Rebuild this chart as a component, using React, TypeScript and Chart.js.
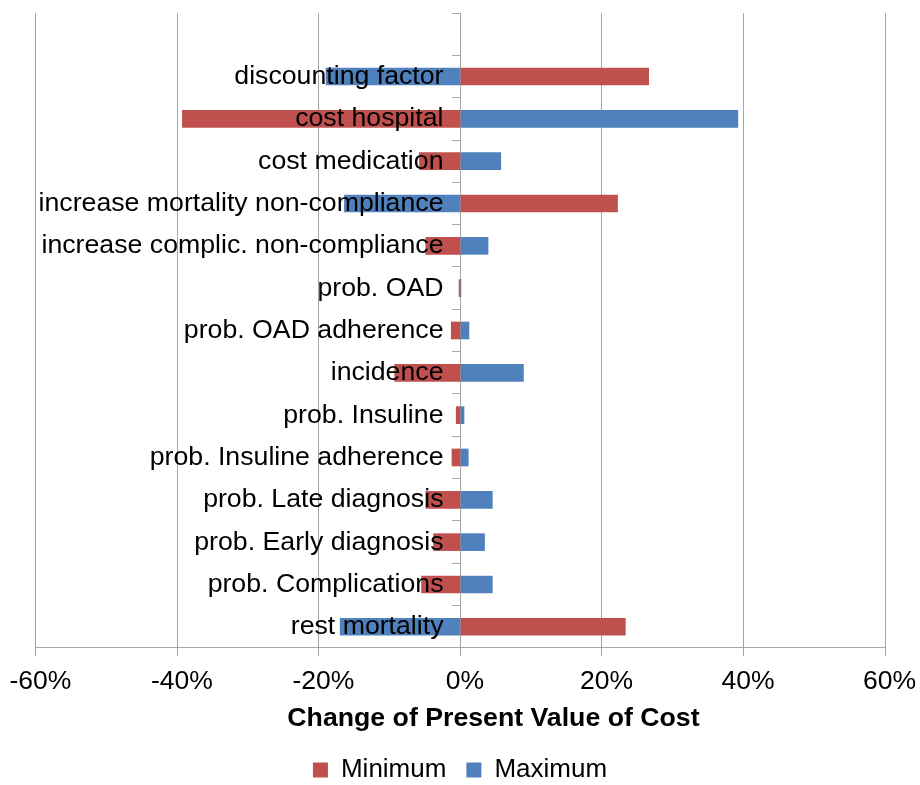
import React, { useEffect, useRef } from "react";
import { Chart, registerables, LinearScale } from "chart.js";

Chart.register(...registerables);

const categories = [
  "",
  "discounting factor",
  "cost hospital",
  "cost medication",
  "increase mortality non-compliance",
  "increase complic. non-compliance",
  "prob. OAD",
  "prob. OAD adherence",
  "incidence",
  "prob. Insuline",
  "prob. Insuline adherence",
  "prob. Late diagnosis",
  "prob. Early diagnosis",
  "prob. Complications",
  "rest mortality",
];

const minimumValues = [null, 26.6, -39.3, -5.8, 22.2, -4.9, -0.2, -1.3, -9.3, -0.6, -1.2, -4.9, -3.8, -5.5, 23.3];
const maximumValues = [null, -19.0, 39.2, 5.7, -16.4, 3.9, 0.05, 1.2, 8.9, 0.5, 1.1, 4.5, 3.4, 4.5, -17.0];

const xMin = -60;
const xMax = 60;
const xStep = 20;

const FONT = "'Liberation Sans', Arial, Helvetica, sans-serif";
const RED = "#C0504D";
const BLUE = "#4F81BD";
const GRID = "#a6a6a6";
const TITLE_SHIFT = 33;

class ShiftedTitleLinearScale extends LinearScale {
  static id = "shiftedTitleLinear";
  static defaults = LinearScale.defaults;
  drawTitle() {
    const ctx = this.ctx;
    ctx.save();
    ctx.translate(TITLE_SHIFT, 0);
    super.drawTitle();
    ctx.restore();
  }
}
Chart.register(ShiftedTitleLinearScale as any);

export default function App() {
  const ref = useRef<HTMLCanvasElement | null>(null);

  useEffect(() => {
    if (!ref.current) return;
    const chart = new Chart(ref.current, {
      type: "bar",
      data: {
        labels: categories,
        datasets: [
          {
            label: "Minimum",
            data: minimumValues,
            backgroundColor: RED,
            borderWidth: 0,
            grouped: false,
            barThickness: 17,
          },
          {
            label: "Maximum",
            data: maximumValues,
            backgroundColor: BLUE,
            borderWidth: 0,
            grouped: false,
            barThickness: 17,
          },
        ],
      },
      options: {
        indexAxis: "y",
        animation: false,
        responsive: true,
        maintainAspectRatio: false,
        layout: { padding: { top: 0, left: 35, right: 35, bottom: 0 } },
        plugins: {
          legend: {
            position: "bottom",
            labels: {
              font: { family: FONT, size: 26 },
              color: "#000",
              boxWidth: 15,
              boxHeight: 15,
              padding: 20,
            },
          },
          tooltip: { enabled: false },
        },
        scales: {
          x: {
            type: "shiftedTitleLinear",
            min: xMin,
            max: xMax,
            ticks: {
              stepSize: xStep,
              color: "#000",
              font: { family: FONT, size: 26.5, lineHeight: 1.585 },
              padding: 5,
              labelOffset: 4.5,
              maxRotation: 0,
              callback: (v: any) => `${v}%`,
            },
            grid: { color: GRID, lineWidth: 1, tickLength: 8, drawTicks: true },
            border: { color: GRID, width: 1 },
            title: {
              display: true,
              text: "Change of Present Value of Cost",
              color: "#000",
              font: { family: FONT, size: 26.7, weight: "bold" },
              padding: { top: -5, bottom: 2 },
            },
          } as any,
          y: {
            type: "category",
            position: { x: -2.4 } as any,
            offset: true,
            ticks: {
              color: "#000",
              font: { family: FONT, size: 26.7 },
              padding: 0,
              autoSkip: false,
              z: 1,
            },
            grid: { display: false },
            border: { display: false },
          },
          yTicks: {
            type: "category",
            axis: "y",
            position: { x: 0 } as any,
            offset: true,
            ticks: { display: false, padding: 0 },
            grid: {
              offset: true,
              drawOnChartArea: false,
              drawTicks: true,
              tickLength: 8,
              color: GRID,
            },
            border: { color: GRID, width: 1 },
          } as any,
        },
      },
    });
    return () => chart.destroy();
  }, []);

  return (
    <div style={{ position: "fixed", left: 0, top: 0, width: 920, height: 785, overflow: "hidden" }}>
      <div style={{ position: "absolute", left: 0, top: -3, width: 920, height: 796 }}>
        <canvas ref={ref} />
      </div>
    </div>
  );
}
